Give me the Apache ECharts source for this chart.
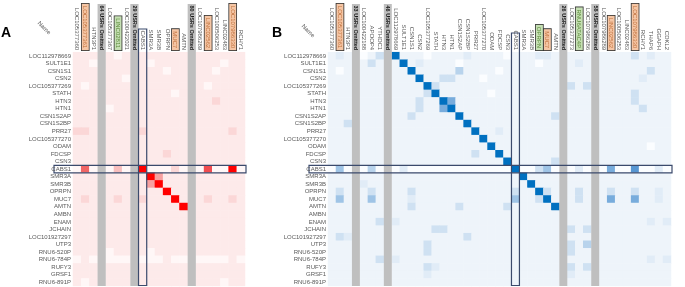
<!DOCTYPE html>
<html>
<head>
<meta charset="utf-8">
<script src="https://cdn.jsdelivr.net/npm/echarts@6/dist/echarts.min.js"></script>
<style>
  html, body { margin: 0; padding: 0; background: #fff; }
  #chart { width: 685px; height: 287px; }
</style>
</head>
<body>
<div id="chart"></div>
<script>
// row genes (same in both panels)
const genes = ['LOC112978669', 'SULT1E1', 'CSN1S1', 'CSN2', 'LOC105377269', 'STATH', 'HTN3', 'HTN1',
  'CSN1S2AP', 'CSN1S2BP', 'PRR27', 'LOC105377270', 'ODAM', 'FDCSP', 'CSN3', 'CABS1', 'SMR3A', 'SMR3B',
  'OPRPN', 'MUC7', 'AMTN', 'AMBN', 'ENAM', 'JCHAIN', 'LOC101927297', 'UTP3', 'RNU6-520P', 'RNU6-784P',
  'RUFY3', 'GRSF1', 'RNU6-891P'];

const colsA = ['LOC105377360', 'LOC105377361', 'HTN3P1', '64 USRs Omitted', 'LOC105377367', 'LINC02811',
  'LOC100422021', '29 USRs Omitted', 'CABS1', 'SMR3A', 'SMR3B', 'OPRPN', 'MUC7', 'AMTN', '80 USRs Omitted',
  'LOC107986289', 'LINC02562', 'LOC100506253', 'LINC02483', 'LOC107986330', 'RCHY1'];

const colsB = ['LOC105377360', 'LOC105377361', 'HTN3P1', '33 USRs Omitted', 'LOC100422188', 'APOOP4', 'YTHDC1',
  '46 USRs Omitted', 'LOC112978669', 'SULT1E1', 'CSN1S1', 'CSN2', 'LOC105377269', 'STATH', 'HTN3', 'HTN1',
  'CSN1S2AP', 'CSN1S2BP', 'PRR27', 'LOC105377270', 'ODAM', 'FDCSP', 'CSN3', 'CABS1', 'SMR3A', 'SMR3B', 'OPRPN',
  'MUC7', 'AMTN', '26 USRs Omitted', 'LOC105377273', 'RNU6ATAC4P', 'LOC107986286', '58 USRs Omitted',
  'LOC107986289', 'LINC02562', 'LOC100506253', 'LINC02483', 'LOC107986330', 'RCHY1', 'THAP6', 'GGAPH', 'CDKL2'];

// levels 0..9 per cell, one string per gene row, '-' = omitted column
const heatA = [
  '111-101-111111-111111',
  '110-111-101111-111011',
  '111-111-111011-110111',
  '111-110-111111-111111',
  '101-111-111111-101111',
  '111-111-111101-111111',
  '111-111-111111-112111',
  '111-011-111111-111111',
  '111-111-111111-111111',
  '111-111-111111-111111',
  '221-111-211111-111121',
  '111-111-111111-111111',
  '111-111-111111-111111',
  '111-111-111211-111111',
  '111-111-111111-111111',
  '060-030-900020-070090',
  '111-111-194111-111111',
  '111-111-149111-111111',
  '111-111-111911-111111',
  '121-121-211191-121121',
  '111-111-111119-111111',
  '111-111-111111-111111',
  '111-111-111111-111111',
  '111-111-111111-111111',
  '111-111-111111-111111',
  '111-111-111111-111111',
  '111-011-101111-111111',
  '010-000-000100-000010',
  '111-111-111111-111111',
  '111-111-111111-111111',
  '101-111-111111-111011'
];

const heatB = [
  '121-013-911101111211110111221-111-111131211',
  '111-131-191211110111111111011-121-111111111',
  '101-111-119111114111101111111-111-111111311',
  '111-111-111911331110111111111-111-111112111',
  '111-111-111193111111111111111-313-111111111',
  '111-111-111139111111011111111-111-111131111',
  '111-111-111311961111111111111-111-111131111',
  '111-111-111311691111111111111-111-111113111',
  '111-111-113111119111111111113-111-111111111',
  '113-111-111111111911111111111-111-111111111',
  '111-111-111111111191121111111-111-111111111',
  '111-111-111111111119111111111-111-111111111',
  '111-111-111111111111911111111-111-111111011',
  '111-111-111111111131191111111-111-111111111',
  '111-111-111111111111119111113-111-111111111',
  '050-040-020000000000000900350-020-060070020',
  '111-111-111111111111111191111-111-111111111',
  '111-211-111111111111111119111-111-111111111',
  '131-131-113111111111111311931-131-131131121',
  '151-151-112111111111111511391-131-161161121',
  '111-111-113111113111113111119-111-111111111',
  '111-111-111111111111111111111-111-111111111',
  '111-113-211111111111111111111-111-111111212',
  '111-111-111113311111111111111-313-111111111',
  '132-111-111111111311111111111-111-111111111',
  '111-111-111131111111111111111-314-111111111',
  '111-111-111131111111111111111-311-111111111',
  '111-113-211111111111111111111-111-111111212',
  '111-111-111132111111111111111-313-111111111',
  '111-111-111121111111111111111-211-111111111',
  '111-111-111111111111111111111-111-111111111'
];

const orangeLabels = ['LOC105377361', 'MUC7', 'LINC02562', 'LOC107986330'];
const greenA = ['LINC02811'];
const greenB = ['OPRPN', 'RNU6ATAC4P'];
const focus = 'CABS1';

const FONT = 'Liberation Sans';
const redScale = ['#fff7f7', '#fdeaea', '#fbd7d7', '#f8bebe', '#f7a0a0', '#f38282', '#f06666', '#f04c50', '#f62828', '#ff0000'];
const blueScale = ['#fbfdff', '#eef4fa', '#e1ecf7', '#cfe1f2', '#b8d3ec', '#9fc4e6', '#78acdc', '#5796d2', '#2f84cb', '#0070c0'];

function cells(rows) {
  const out = [];
  rows.forEach((s, r) => {
    for (let c = 0; c < s.length; c++) {
      if (s[c] !== '-') out.push([c, r, +s[c]]);
    }
  });
  return out;
}

const isOmitted = n => / Omitted$/.test(n);

function labelFmt(green) {
  return v => {
    if (isOmitted(v)) return '{om|' + v + '}';
    if (orangeLabels.includes(v)) return '{or|' + v + '}';
    if (green.includes(v)) return '{gr|' + v + '}';
    return v;
  };
}

const rich = {
  om: { fontWeight: 'bold', color: '#1a1a1a', fontSize: 5.5, fontFamily: FONT },
  or: { backgroundColor: '#f5c6a5', borderColor: '#333', borderWidth: 0.8, padding: [1, 2, 0, 2],
        color: '#c0713d', fontSize: 6, fontFamily: FONT },
  gr: { backgroundColor: '#c6e0b4', borderColor: '#333', borderWidth: 0.8, padding: [1, 2, 0, 2],
        color: '#5b8a3a', fontSize: 6, fontFamily: FONT }
};

function xAxisFor(idx, cols, green) {
  return {
    gridIndex: idx, type: 'category', data: cols, position: 'top', z: 10,
    axisLine: { show: false }, axisTick: { show: false }, splitLine: { show: false },
    axisLabel: { interval: 0, rotate: 90, margin: 2, fontSize: 6, color: '#595959', fontFamily: FONT,
      formatter: labelFmt(green), rich: rich }
  };
}

function yAxisFor(idx) {
  return {
    gridIndex: idx, type: 'category', data: genes, inverse: true, z: 10,
    axisLine: { show: false }, axisTick: { show: false }, splitLine: { show: false },
    axisLabel: { interval: 0, margin: 2, fontSize: 6, color: '#595959', fontFamily: FONT }
  };
}

// grey "omitted" bands reach up into the label area
function bandRender(params, api) {
  const x = api.coord([api.value(0), api.value(1)])[0];
  const s = api.size([1, 1]);
  const cs = params.coordSys;
  return {
    type: 'rect',
    shape: { x: x - s[0] / 2, y: 4, width: s[0], height: cs.y + cs.height - 4 },
    style: { fill: '#bfbfbf' }
  };
}

function boxRender(top) {
  return (params, api) => {
    const c = api.coord([api.value(0), api.value(1)]);
    const s = api.size([1, 1]);
    const cs = params.coordSys;
    const st = { fill: 'none', stroke: '#3b4a6c', lineWidth: 1.2 };
    return {
      type: 'group',
      children: [
        { type: 'rect', shape: { x: cs.x - 19, y: c[1] - s[1] / 2, width: cs.width + 20, height: s[1] }, style: st },
        { type: 'rect', shape: { x: c[0] - s[0] / 2, y: top, width: s[0], height: cs.y + cs.height - top - 0.5 }, style: st }
      ]
    };
  };
}

const chart = echarts.init(document.getElementById('chart'));
chart.setOption({
  backgroundColor: '#fff',
  animation: false,
  grid: [
    { left: 73, top: 48, width: 172, height: 238 },
    { left: 328, top: 48, width: 343, height: 238 }
  ],
  xAxis: [xAxisFor(0, colsA, greenA), xAxisFor(1, colsB, greenB)],
  yAxis: [yAxisFor(0), yAxisFor(1)],
  visualMap: [
    { type: 'continuous', show: false, seriesIndex: 0, min: 0, max: 9, inRange: { color: redScale } },
    { type: 'continuous', show: false, seriesIndex: 1, min: 0, max: 9, inRange: { color: blueScale } }
  ],
  graphic: [
    { type: 'text', left: 1, top: 26, style: { text: 'A', fontSize: 14, fontWeight: 'bold', fill: '#000', fontFamily: FONT } },
    { type: 'text', left: 272, top: 26, style: { text: 'B', fontSize: 14, fontWeight: 'bold', fill: '#000', fontFamily: FONT } },
    { type: 'text', x: 44, y: 28, rotation: -Math.PI / 4,
      style: { text: 'Name', fontSize: 6, fill: '#595959', fontFamily: FONT, align: 'center', verticalAlign: 'middle' } },
    { type: 'text', x: 308, y: 31, rotation: -Math.PI / 4,
      style: { text: 'Name', fontSize: 6, fill: '#595959', fontFamily: FONT, align: 'center', verticalAlign: 'middle' } }
  ],
  series: [
    { type: 'heatmap', xAxisIndex: 0, yAxisIndex: 0, data: cells(heatA), silent: true, emphasis: { disabled: true } },
    { type: 'heatmap', xAxisIndex: 1, yAxisIndex: 1, data: cells(heatB), silent: true, emphasis: { disabled: true } },
    { type: 'custom', xAxisIndex: 0, yAxisIndex: 0, silent: true, z: 3, renderItem: bandRender,
      data: colsA.map((n, i) => [i, 0, n]).filter(d => isOmitted(d[2])) },
    { type: 'custom', xAxisIndex: 1, yAxisIndex: 1, silent: true, z: 3, renderItem: bandRender,
      data: colsB.map((n, i) => [i, 0, n]).filter(d => isOmitted(d[2])) },
    { type: 'custom', xAxisIndex: 0, yAxisIndex: 0, silent: true, z: 4, renderItem: boxRender(29),
      data: [[colsA.indexOf(focus), genes.indexOf(focus)]] },
    { type: 'custom', xAxisIndex: 1, yAxisIndex: 1, silent: true, z: 4, renderItem: boxRender(33),
      data: [[colsB.indexOf(focus), genes.indexOf(focus)]] }
  ]
});
</script>
</body>
</html>
